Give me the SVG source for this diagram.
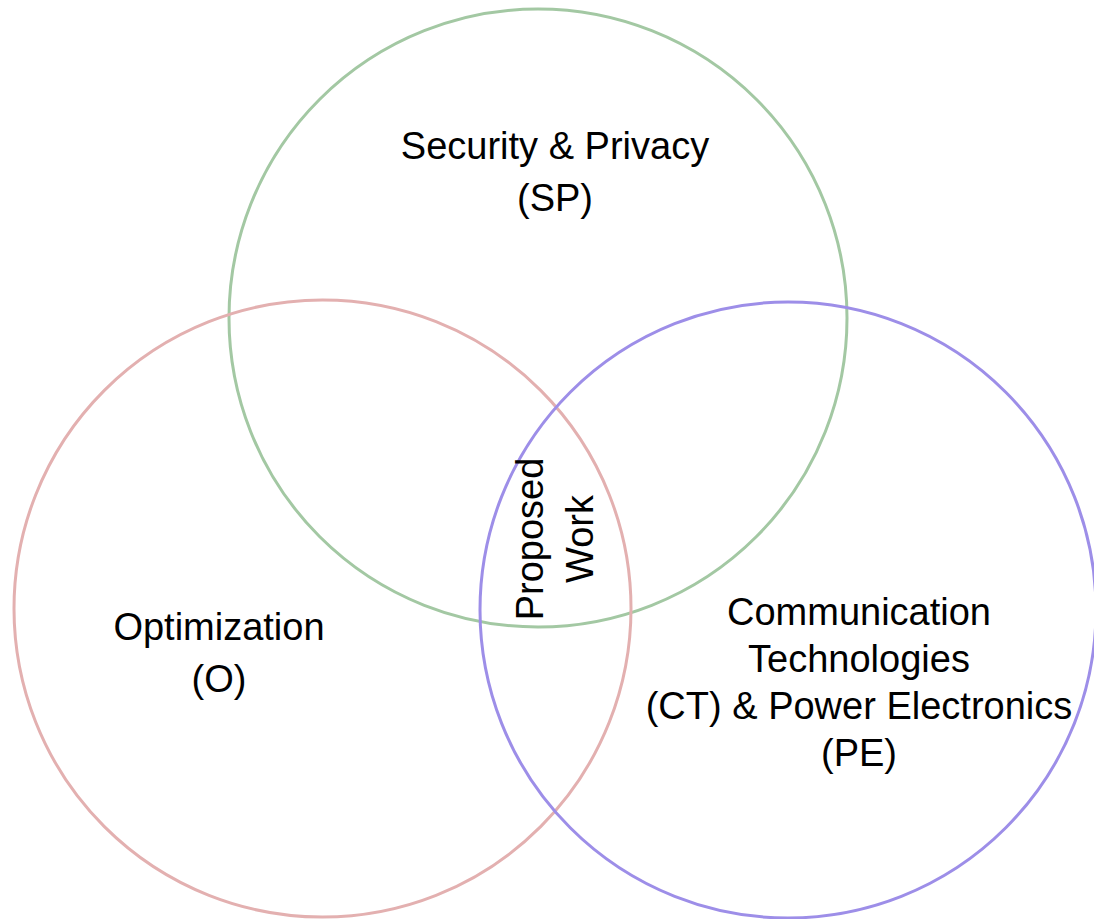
<svg xmlns="http://www.w3.org/2000/svg" width="1094" height="919" viewBox="0 0 1094 919">
  <style>
    .set { fill: none; stroke-width: 3; }
    .label { font-family: "Liberation Sans", Arial, sans-serif; font-size: 38px; fill: #000; text-anchor: middle; }
  </style>
  <rect width="1094" height="919" fill="#ffffff"/>
  <g id="security-privacy">
    <circle class="set" cx="538" cy="318" r="309" stroke="#a3c8a3"/>
    <text class="label"><tspan x="555" y="159">Security &amp; Privacy</tspan><tspan x="555" y="211">(SP)</tspan></text>
  </g>
  <g id="optimization">
    <circle class="set" cx="322.5" cy="608.5" r="308.5" stroke="#e3b0b0"/>
    <text class="label"><tspan x="219" y="640">Optimization</tspan><tspan x="219" y="692">(O)</tspan></text>
  </g>
  <g id="communication-power">
    <circle class="set" cx="788" cy="610" r="308" stroke="#9d8ee8"/>
    <text class="label"><tspan x="859" y="625">Communication</tspan><tspan x="859" y="672">Technologies</tspan><tspan x="859" y="719">(CT) &amp; Power Electronics</tspan><tspan x="859" y="766">(PE)</tspan></text>
  </g>
  <g id="proposed-work">
    <text class="label" transform="rotate(-90 568 539)"><tspan x="568" y="514">Proposed</tspan><tspan x="568" y="564">Work</tspan></text>
  </g>
  <g id="connectors"/>
</svg>
